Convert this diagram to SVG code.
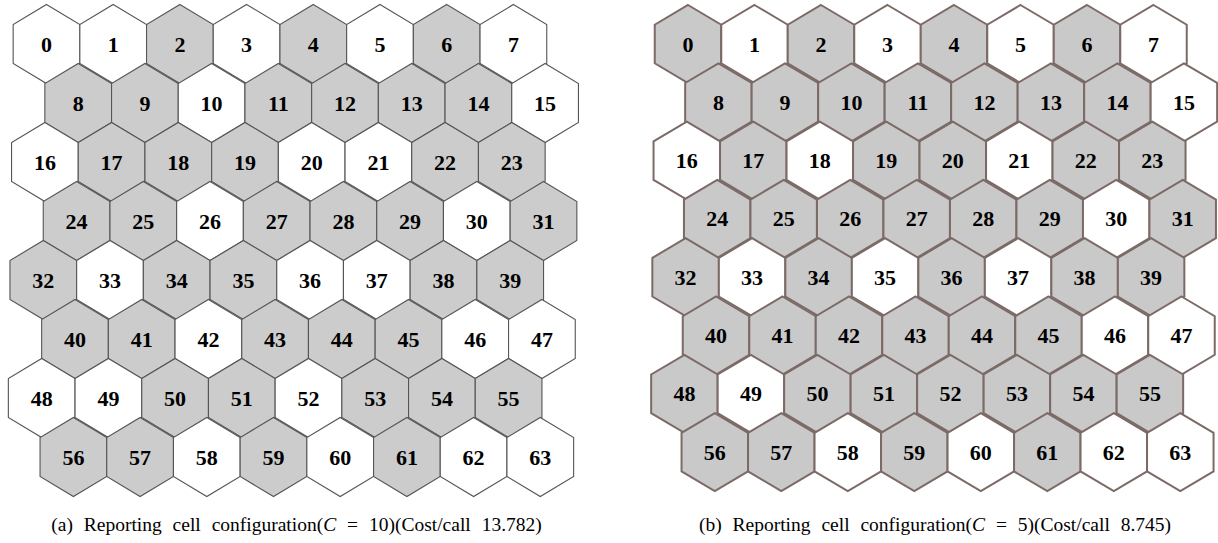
<svg xmlns="http://www.w3.org/2000/svg" xmlns:xlink="http://www.w3.org/1999/xlink" width="1218" height="543" viewBox="0 0 1218 543">
<style>
.g{fill:#cccccc}
.w{fill:#ffffff}
.A use{stroke:#555555;stroke-width:1.1;stroke-linejoin:miter}
.B use{stroke:#7b6a66;stroke-width:2;stroke-linejoin:miter}
.B .g{fill:#c9c9c9}
text{font-family:"Liberation Serif","Times New Roman",serif;fill:#000}
.n text{font-weight:bold;font-size:22px;text-anchor:middle}
.cap{font-size:19.5px;text-anchor:middle;word-spacing:6px}
</style>
<defs>
<polygon id="hl" points="0,-39.5 33.35,-19.5 33.35,19.5 0,39.5 -33.35,19.5 -33.35,-19.5"/>
<polygon id="hr" points="0,-39 33.25,-19.3 33.25,19.3 0,39 -33.25,19.3 -33.25,-19.3"/>
</defs>
<rect width="1218" height="543" fill="#ffffff"/>
<g id="gridA" class="A n">
<g id="a0" transform="translate(46.5,44)"><use href="#hl" class="w"/><text y="7.5">0</text></g>
<g id="a1" transform="translate(113.2,44)"><use href="#hl" class="w"/><text y="7.5">1</text></g>
<g id="a2" transform="translate(179.9,44)"><use href="#hl" class="g"/><text y="7.5">2</text></g>
<g id="a3" transform="translate(246.6,44)"><use href="#hl" class="w"/><text y="7.5">3</text></g>
<g id="a4" transform="translate(313.3,44)"><use href="#hl" class="g"/><text y="7.5">4</text></g>
<g id="a5" transform="translate(380,44)"><use href="#hl" class="w"/><text y="7.5">5</text></g>
<g id="a6" transform="translate(446.7,44)"><use href="#hl" class="g"/><text y="7.5">6</text></g>
<g id="a7" transform="translate(513.4,44)"><use href="#hl" class="w"/><text y="7.5">7</text></g>
<g id="a8" transform="translate(78.2,103)"><use href="#hl" class="g"/><text y="7.5">8</text></g>
<g id="a9" transform="translate(144.9,103)"><use href="#hl" class="g"/><text y="7.5">9</text></g>
<g id="a10" transform="translate(211.6,103)"><use href="#hl" class="w"/><text y="7.5">10</text></g>
<g id="a11" transform="translate(278.3,103)"><use href="#hl" class="g"/><text y="7.5">11</text></g>
<g id="a12" transform="translate(345,103)"><use href="#hl" class="g"/><text y="7.5">12</text></g>
<g id="a13" transform="translate(411.7,103)"><use href="#hl" class="g"/><text y="7.5">13</text></g>
<g id="a14" transform="translate(478.4,103)"><use href="#hl" class="g"/><text y="7.5">14</text></g>
<g id="a15" transform="translate(545.1,103)"><use href="#hl" class="w"/><text y="7.5">15</text></g>
<g id="a16" transform="translate(44.9,162)"><use href="#hl" class="w"/><text y="7.5">16</text></g>
<g id="a17" transform="translate(111.6,162)"><use href="#hl" class="g"/><text y="7.5">17</text></g>
<g id="a18" transform="translate(178.3,162)"><use href="#hl" class="g"/><text y="7.5">18</text></g>
<g id="a19" transform="translate(245,162)"><use href="#hl" class="g"/><text y="7.5">19</text></g>
<g id="a20" transform="translate(311.7,162)"><use href="#hl" class="w"/><text y="7.5">20</text></g>
<g id="a21" transform="translate(378.4,162)"><use href="#hl" class="w"/><text y="7.5">21</text></g>
<g id="a22" transform="translate(445.1,162)"><use href="#hl" class="g"/><text y="7.5">22</text></g>
<g id="a23" transform="translate(511.8,162)"><use href="#hl" class="g"/><text y="7.5">23</text></g>
<g id="a24" transform="translate(76.6,221)"><use href="#hl" class="g"/><text y="7.5">24</text></g>
<g id="a25" transform="translate(143.3,221)"><use href="#hl" class="g"/><text y="7.5">25</text></g>
<g id="a26" transform="translate(210,221)"><use href="#hl" class="w"/><text y="7.5">26</text></g>
<g id="a27" transform="translate(276.7,221)"><use href="#hl" class="g"/><text y="7.5">27</text></g>
<g id="a28" transform="translate(343.4,221)"><use href="#hl" class="g"/><text y="7.5">28</text></g>
<g id="a29" transform="translate(410.1,221)"><use href="#hl" class="g"/><text y="7.5">29</text></g>
<g id="a30" transform="translate(476.8,221)"><use href="#hl" class="w"/><text y="7.5">30</text></g>
<g id="a31" transform="translate(543.5,221)"><use href="#hl" class="g"/><text y="7.5">31</text></g>
<g id="a32" transform="translate(43.3,280)"><use href="#hl" class="g"/><text y="7.5">32</text></g>
<g id="a33" transform="translate(110,280)"><use href="#hl" class="w"/><text y="7.5">33</text></g>
<g id="a34" transform="translate(176.7,280)"><use href="#hl" class="g"/><text y="7.5">34</text></g>
<g id="a35" transform="translate(243.4,280)"><use href="#hl" class="g"/><text y="7.5">35</text></g>
<g id="a36" transform="translate(310.1,280)"><use href="#hl" class="w"/><text y="7.5">36</text></g>
<g id="a37" transform="translate(376.8,280)"><use href="#hl" class="w"/><text y="7.5">37</text></g>
<g id="a38" transform="translate(443.5,280)"><use href="#hl" class="g"/><text y="7.5">38</text></g>
<g id="a39" transform="translate(510.2,280)"><use href="#hl" class="g"/><text y="7.5">39</text></g>
<g id="a40" transform="translate(75,339)"><use href="#hl" class="g"/><text y="7.5">40</text></g>
<g id="a41" transform="translate(141.7,339)"><use href="#hl" class="g"/><text y="7.5">41</text></g>
<g id="a42" transform="translate(208.4,339)"><use href="#hl" class="w"/><text y="7.5">42</text></g>
<g id="a43" transform="translate(275.1,339)"><use href="#hl" class="g"/><text y="7.5">43</text></g>
<g id="a44" transform="translate(341.8,339)"><use href="#hl" class="g"/><text y="7.5">44</text></g>
<g id="a45" transform="translate(408.5,339)"><use href="#hl" class="g"/><text y="7.5">45</text></g>
<g id="a46" transform="translate(475.2,339)"><use href="#hl" class="w"/><text y="7.5">46</text></g>
<g id="a47" transform="translate(541.9,339)"><use href="#hl" class="w"/><text y="7.5">47</text></g>
<g id="a48" transform="translate(41.7,398)"><use href="#hl" class="w"/><text y="7.5">48</text></g>
<g id="a49" transform="translate(108.4,398)"><use href="#hl" class="w"/><text y="7.5">49</text></g>
<g id="a50" transform="translate(175.1,398)"><use href="#hl" class="g"/><text y="7.5">50</text></g>
<g id="a51" transform="translate(241.8,398)"><use href="#hl" class="g"/><text y="7.5">51</text></g>
<g id="a52" transform="translate(308.5,398)"><use href="#hl" class="w"/><text y="7.5">52</text></g>
<g id="a53" transform="translate(375.2,398)"><use href="#hl" class="g"/><text y="7.5">53</text></g>
<g id="a54" transform="translate(441.9,398)"><use href="#hl" class="g"/><text y="7.5">54</text></g>
<g id="a55" transform="translate(508.6,398)"><use href="#hl" class="g"/><text y="7.5">55</text></g>
<g id="a56" transform="translate(73.4,457)"><use href="#hl" class="g"/><text y="7.5">56</text></g>
<g id="a57" transform="translate(140.1,457)"><use href="#hl" class="g"/><text y="7.5">57</text></g>
<g id="a58" transform="translate(206.8,457)"><use href="#hl" class="w"/><text y="7.5">58</text></g>
<g id="a59" transform="translate(273.5,457)"><use href="#hl" class="g"/><text y="7.5">59</text></g>
<g id="a60" transform="translate(340.2,457)"><use href="#hl" class="w"/><text y="7.5">60</text></g>
<g id="a61" transform="translate(406.9,457)"><use href="#hl" class="g"/><text y="7.5">61</text></g>
<g id="a62" transform="translate(473.6,457)"><use href="#hl" class="w"/><text y="7.5">62</text></g>
<g id="a63" transform="translate(540.3,457)"><use href="#hl" class="w"/><text y="7.5">63</text></g>
</g>
<g id="gridB" class="B n">
<g id="b0" transform="translate(688,44)"><use href="#hr" class="g"/><text y="7.5">0</text></g>
<g id="b1" transform="translate(754.5,44)"><use href="#hr" class="w"/><text y="7.5">1</text></g>
<g id="b2" transform="translate(821,44)"><use href="#hr" class="g"/><text y="7.5">2</text></g>
<g id="b3" transform="translate(887.5,44)"><use href="#hr" class="w"/><text y="7.5">3</text></g>
<g id="b4" transform="translate(954,44)"><use href="#hr" class="g"/><text y="7.5">4</text></g>
<g id="b5" transform="translate(1020.5,44)"><use href="#hr" class="w"/><text y="7.5">5</text></g>
<g id="b6" transform="translate(1087,44)"><use href="#hr" class="g"/><text y="7.5">6</text></g>
<g id="b7" transform="translate(1153.5,44)"><use href="#hr" class="w"/><text y="7.5">7</text></g>
<g id="b8" transform="translate(718.4,102.3)"><use href="#hr" class="g"/><text y="7.5">8</text></g>
<g id="b9" transform="translate(784.9,102.3)"><use href="#hr" class="g"/><text y="7.5">9</text></g>
<g id="b10" transform="translate(851.4,102.3)"><use href="#hr" class="g"/><text y="7.5">10</text></g>
<g id="b11" transform="translate(917.9,102.3)"><use href="#hr" class="g"/><text y="7.5">11</text></g>
<g id="b12" transform="translate(984.4,102.3)"><use href="#hr" class="g"/><text y="7.5">12</text></g>
<g id="b13" transform="translate(1050.9,102.3)"><use href="#hr" class="g"/><text y="7.5">13</text></g>
<g id="b14" transform="translate(1117.4,102.3)"><use href="#hr" class="g"/><text y="7.5">14</text></g>
<g id="b15" transform="translate(1183.9,102.3)"><use href="#hr" class="w"/><text y="7.5">15</text></g>
<g id="b16" transform="translate(686.8,160.6)"><use href="#hr" class="w"/><text y="7.5">16</text></g>
<g id="b17" transform="translate(753.3,160.6)"><use href="#hr" class="g"/><text y="7.5">17</text></g>
<g id="b18" transform="translate(819.8,160.6)"><use href="#hr" class="w"/><text y="7.5">18</text></g>
<g id="b19" transform="translate(886.3,160.6)"><use href="#hr" class="g"/><text y="7.5">19</text></g>
<g id="b20" transform="translate(952.8,160.6)"><use href="#hr" class="g"/><text y="7.5">20</text></g>
<g id="b21" transform="translate(1019.3,160.6)"><use href="#hr" class="w"/><text y="7.5">21</text></g>
<g id="b22" transform="translate(1085.8,160.6)"><use href="#hr" class="g"/><text y="7.5">22</text></g>
<g id="b23" transform="translate(1152.3,160.6)"><use href="#hr" class="g"/><text y="7.5">23</text></g>
<g id="b24" transform="translate(717.2,218.9)"><use href="#hr" class="g"/><text y="7.5">24</text></g>
<g id="b25" transform="translate(783.7,218.9)"><use href="#hr" class="g"/><text y="7.5">25</text></g>
<g id="b26" transform="translate(850.2,218.9)"><use href="#hr" class="g"/><text y="7.5">26</text></g>
<g id="b27" transform="translate(916.7,218.9)"><use href="#hr" class="g"/><text y="7.5">27</text></g>
<g id="b28" transform="translate(983.2,218.9)"><use href="#hr" class="g"/><text y="7.5">28</text></g>
<g id="b29" transform="translate(1049.7,218.9)"><use href="#hr" class="g"/><text y="7.5">29</text></g>
<g id="b30" transform="translate(1116.2,218.9)"><use href="#hr" class="w"/><text y="7.5">30</text></g>
<g id="b31" transform="translate(1182.7,218.9)"><use href="#hr" class="g"/><text y="7.5">31</text></g>
<g id="b32" transform="translate(685.6,277.2)"><use href="#hr" class="g"/><text y="7.5">32</text></g>
<g id="b33" transform="translate(752.1,277.2)"><use href="#hr" class="w"/><text y="7.5">33</text></g>
<g id="b34" transform="translate(818.6,277.2)"><use href="#hr" class="g"/><text y="7.5">34</text></g>
<g id="b35" transform="translate(885.1,277.2)"><use href="#hr" class="w"/><text y="7.5">35</text></g>
<g id="b36" transform="translate(951.6,277.2)"><use href="#hr" class="g"/><text y="7.5">36</text></g>
<g id="b37" transform="translate(1018.1,277.2)"><use href="#hr" class="w"/><text y="7.5">37</text></g>
<g id="b38" transform="translate(1084.6,277.2)"><use href="#hr" class="g"/><text y="7.5">38</text></g>
<g id="b39" transform="translate(1151.1,277.2)"><use href="#hr" class="g"/><text y="7.5">39</text></g>
<g id="b40" transform="translate(716,335.5)"><use href="#hr" class="g"/><text y="7.5">40</text></g>
<g id="b41" transform="translate(782.5,335.5)"><use href="#hr" class="g"/><text y="7.5">41</text></g>
<g id="b42" transform="translate(849,335.5)"><use href="#hr" class="g"/><text y="7.5">42</text></g>
<g id="b43" transform="translate(915.5,335.5)"><use href="#hr" class="g"/><text y="7.5">43</text></g>
<g id="b44" transform="translate(982,335.5)"><use href="#hr" class="g"/><text y="7.5">44</text></g>
<g id="b45" transform="translate(1048.5,335.5)"><use href="#hr" class="g"/><text y="7.5">45</text></g>
<g id="b46" transform="translate(1115,335.5)"><use href="#hr" class="w"/><text y="7.5">46</text></g>
<g id="b47" transform="translate(1181.5,335.5)"><use href="#hr" class="w"/><text y="7.5">47</text></g>
<g id="b48" transform="translate(684.4,393.8)"><use href="#hr" class="g"/><text y="7.5">48</text></g>
<g id="b49" transform="translate(750.9,393.8)"><use href="#hr" class="w"/><text y="7.5">49</text></g>
<g id="b50" transform="translate(817.4,393.8)"><use href="#hr" class="g"/><text y="7.5">50</text></g>
<g id="b51" transform="translate(883.9,393.8)"><use href="#hr" class="g"/><text y="7.5">51</text></g>
<g id="b52" transform="translate(950.4,393.8)"><use href="#hr" class="g"/><text y="7.5">52</text></g>
<g id="b53" transform="translate(1016.9,393.8)"><use href="#hr" class="g"/><text y="7.5">53</text></g>
<g id="b54" transform="translate(1083.4,393.8)"><use href="#hr" class="g"/><text y="7.5">54</text></g>
<g id="b55" transform="translate(1149.9,393.8)"><use href="#hr" class="g"/><text y="7.5">55</text></g>
<g id="b56" transform="translate(714.8,452.1)"><use href="#hr" class="g"/><text y="7.5">56</text></g>
<g id="b57" transform="translate(781.3,452.1)"><use href="#hr" class="g"/><text y="7.5">57</text></g>
<g id="b58" transform="translate(847.8,452.1)"><use href="#hr" class="w"/><text y="7.5">58</text></g>
<g id="b59" transform="translate(914.3,452.1)"><use href="#hr" class="g"/><text y="7.5">59</text></g>
<g id="b60" transform="translate(980.8,452.1)"><use href="#hr" class="w"/><text y="7.5">60</text></g>
<g id="b61" transform="translate(1047.3,452.1)"><use href="#hr" class="g"/><text y="7.5">61</text></g>
<g id="b62" transform="translate(1113.8,452.1)"><use href="#hr" class="w"/><text y="7.5">62</text></g>
<g id="b63" transform="translate(1180.3,452.1)"><use href="#hr" class="w"/><text y="7.5">63</text></g>
</g>
<g id="connectors"/>
<g id="captions">
<text class="cap" x="296.5" y="531">(a) Reporting cell configuration(<tspan font-style="italic">C</tspan> = 10)(Cost/call 13.782)</text>
<text class="cap" x="935" y="531">(b) Reporting cell configuration(<tspan font-style="italic">C</tspan> = 5)(Cost/call 8.745)</text>
</g>
</svg>
